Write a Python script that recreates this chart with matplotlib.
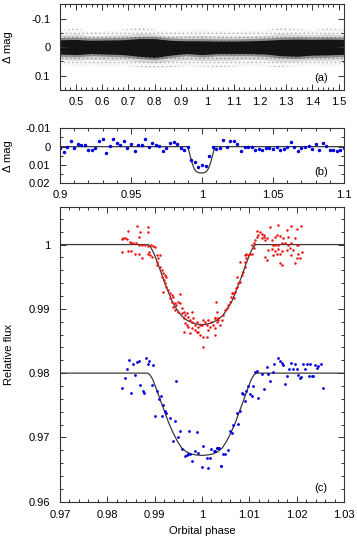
import numpy as np
import matplotlib
matplotlib.use("Agg")
import matplotlib.pyplot as plt
from matplotlib.ticker import MultipleLocator, FuncFormatter

plt.rcParams['font.family'] = ['Liberation Sans', 'DejaVu Sans']
plt.rcParams['font.size'] = 8
plt.rcParams['hatch.linewidth'] = 0.5

# --- panel (a): full phase-folded light curve, read as a band (phase, core and halo half widths)
env_phase = [0.44, 0.50, 0.56, 0.62, 0.68, 0.74, 0.80, 0.86, 0.92, 0.98,
             1.04, 1.10, 1.16, 1.22, 1.28, 1.34, 1.40, 1.46, 1.52]
core_up = [0.026, 0.027, 0.024, 0.025, 0.026, 0.030, 0.030, 0.024, 0.022, 0.022,
           0.021, 0.021, 0.022, 0.024, 0.027, 0.028, 0.027, 0.028, 0.027]
core_lo = [0.024, 0.026, 0.022, 0.024, 0.026, 0.032, 0.036, 0.028, 0.022, 0.026,
           0.022, 0.022, 0.022, 0.024, 0.030, 0.032, 0.028, 0.027, 0.025]
halo_up = [0.060, 0.066, 0.055, 0.058, 0.062, 0.068, 0.062, 0.055, 0.060, 0.062,
           0.058, 0.056, 0.058, 0.060, 0.068, 0.064, 0.060, 0.066, 0.062]
halo_lo = [0.062, 0.066, 0.064, 0.066, 0.064, 0.070, 0.074, 0.070, 0.066, 0.068,
           0.070, 0.068, 0.064, 0.066, 0.070, 0.066, 0.064, 0.066, 0.062]

# --- panel (b): binned residual light curve around the secondary
b_phase = [0.9000, 0.9025, 0.9050, 0.9075, 0.9100, 0.9125, 0.9150, 0.9175, 0.9200, 0.9225,
           0.9250, 0.9275, 0.9300, 0.9325, 0.9350, 0.9375, 0.9400, 0.9425, 0.9450, 0.9475,
           0.9500, 0.9525, 0.9550, 0.9575, 0.9600, 0.9625, 0.9650, 0.9675, 0.9700, 0.9725,
           0.9750, 0.9775, 0.9800, 0.9825, 0.9850, 0.9875, 0.9900, 0.9925, 0.9950, 0.9975,
           1.0000, 1.0025, 1.0050, 1.0075, 1.0100, 1.0125, 1.0150, 1.0175, 1.0200, 1.0225,
           1.0250, 1.0275, 1.0300, 1.0325, 1.0350, 1.0375, 1.0400, 1.0425, 1.0450, 1.0475,
           1.0500, 1.0525, 1.0550, 1.0575, 1.0600, 1.0625, 1.0650, 1.0675, 1.0700, 1.0725,
           1.0750, 1.0775, 1.0800, 1.0825, 1.0850, 1.0875, 1.0900, 1.0925, 1.0950, 1.0975,
           1.1000]
b_mag = [0.0009, 0.0029, 0.0000, -0.0031, 0.0009, -0.0013, -0.0009, -0.0007, 0.0020, 0.0018,
         0.0007, -0.0031, -0.0042, 0.0036, -0.0004, -0.0044, -0.0022, -0.0007, -0.0029, 0.0005,
         -0.0013, 0.0025, -0.0007, -0.0011, -0.0040, 0.0004, -0.0018, -0.0009, -0.0004, 0.0024,
         0.0007, -0.0018, -0.0025, -0.0013, 0.0009, 0.0018, 0.0002, 0.0075, 0.0084, 0.0111,
         0.0102, 0.0107, 0.0051, 0.0000, 0.0011, 0.0007, -0.0036, 0.0000, -0.0029, -0.0029,
         -0.0016, 0.0022, 0.0000, 0.0000, 0.0000, 0.0020, 0.0015, 0.0018, 0.0005, 0.0005,
         0.0011, 0.0002, 0.0018, 0.0011, 0.0004, -0.0024, 0.0002, 0.0022, 0.0009, 0.0002,
         -0.0005, 0.0015, -0.0015, 0.0018, -0.0020, -0.0004, 0.0020, 0.0020, 0.0025, 0.0020,
         0.0005]
b_model_phase = [0.9, 0.9898, 0.9905, 0.9915, 0.9925, 0.9935, 0.9945, 0.9958, 0.9975, 0.9995,
                 1.0015, 1.0032, 1.0045, 1.0055, 1.0065, 1.0075, 1.0085, 1.0092, 1.1]
b_model_mag = [0.0, 0.0, 0.0015, 0.0045, 0.0075, 0.0100, 0.0120, 0.0135, 0.0142, 0.0144,
               0.0142, 0.0135, 0.0120, 0.0100, 0.0075, 0.0045, 0.0015, 0.0, 0.0]

# --- panel (c): primary eclipse, two data sets
red_phase = [0.9862, 0.9885, 0.9869, 0.9844, 0.9885, 0.9867, 0.9834, 0.9837, 0.9830, 0.9841,
             0.9848, 0.9851, 0.9855, 0.9860, 0.9866, 0.9873, 0.9880, 0.9887, 0.9892, 0.9897,
             0.9901, 0.9832, 0.9844, 0.9851, 0.9858, 0.9866, 0.9873, 0.9887, 0.9890, 0.9894,
             0.9888, 0.9904, 0.9908, 0.9911, 0.9906, 0.9904, 0.9911, 0.9915, 0.9918, 0.9922,
             0.9925, 0.9915, 0.9920, 0.9922, 0.9925, 0.9929, 0.9918, 0.9932, 0.9936, 0.9939,
             0.9932, 0.9936, 0.9943, 0.9946, 0.9939, 0.9943, 0.9950, 0.9954, 0.9954, 0.9957,
             0.9961, 0.9964, 0.9950, 0.9957, 0.9968, 0.9971, 0.9978, 0.9975, 0.9978, 0.9982,
             0.9985, 0.9989, 0.9961, 0.9964, 0.9968, 0.9971, 0.9978, 0.9985, 0.9992, 0.9996,
             1.0003, 1.0010, 0.9992, 0.9999, 1.0006, 1.0003, 1.0013, 1.0020, 1.0027, 1.0031,
             1.0034, 1.0024, 1.0017, 1.0027, 1.0013, 1.0003, 0.9975, 0.9961, 0.9989, 0.9996,
             1.0010,
             1.0028, 1.0031, 1.0034, 1.0038, 1.0042, 1.0028, 1.0030, 1.0045, 1.0049, 1.0052,
             1.0056, 1.0059, 1.0061, 1.0063, 1.0066, 1.0070, 1.0071, 1.0073, 1.0068, 1.0077,
             1.0080, 1.0073, 1.0084, 1.0087, 1.0080, 1.0090, 1.0091, 1.0094, 1.0091, 1.0094,
             1.0098, 1.0101, 1.0105, 1.0109, 1.0105, 1.0109, 1.0112, 1.0116, 1.0119, 1.0117,
             1.0123, 1.0126, 1.0130, 1.0126, 1.0133, 1.0137, 1.0132, 1.0144, 1.0161, 1.0179,
             1.0189, 1.0200, 1.0209, 1.0154, 1.0158, 1.0147, 1.0165, 1.0172, 1.0182, 1.0196,
             1.0151, 1.0154, 1.0161, 1.0168, 1.0175, 1.0182, 1.0189, 1.0200, 1.0203, 1.0140,
             1.0147, 1.0154, 1.0161, 1.0168, 1.0179, 1.0186, 1.0193, 1.0203, 1.0211, 1.0151,
             1.0158, 1.0165, 1.0137, 1.0168, 1.0165, 1.0196, 1.0200, 1.0207, 1.0133, 1.0189]
red_flux = [1.00291, 1.00266, 1.00188, 1.00209, 1.00198, 1.00120, 1.00105, 1.00095, 1.00084, 1.00084,
            1.00043, 1.00017, 1.00017, 1.00032, 0.99991, 0.99991, 0.99991, 0.99981, 0.99991, 0.99975,
            0.99965, 0.99887, 0.99898, 0.99898, 0.99861, 0.99861, 0.99784, 0.99861, 0.99836, 0.99810,
            0.99887, 0.99836, 0.99784, 0.99836, 0.99732, 0.99680, 0.99654, 0.99602, 0.99551, 0.99525,
            0.99499, 0.99499, 0.99447, 0.99395, 0.99343, 0.99292, 0.99266, 0.99240, 0.99214, 0.99188,
            0.99162, 0.99110, 0.99084, 0.99059, 0.99033, 0.98981, 0.99110, 0.99224, 0.99084, 0.99007,
            0.98955, 0.98903, 0.98955, 0.98929, 0.98929, 0.98877, 0.98955, 0.98825, 0.98800, 0.98851,
            0.98748, 0.98800, 0.98851, 0.98774, 0.98748, 0.98722, 0.98696, 0.98670, 0.98644, 0.98592,
            0.98566, 0.98566, 0.98722, 0.98748, 0.98800, 0.98825, 0.98825, 0.98800, 0.98851, 0.98955,
            0.98851, 0.98748, 0.98722, 0.98696, 0.98670, 0.98411, 0.98618, 0.98634, 0.98644, 0.98748,
            0.98748,
            0.98851, 0.98800, 0.98825, 0.98748, 0.98825, 0.98592, 0.99110, 0.98903, 0.98981, 0.99007,
            0.99059, 0.99110, 0.99188, 0.99240, 0.99240, 0.99266, 0.99318, 0.99343, 0.99162, 0.99395,
            0.99421, 0.99499, 0.99525, 0.99577, 0.99732, 0.99654, 0.99732, 0.99784, 0.99836, 0.99861,
            0.99836, 0.99861, 0.99861, 0.99939, 0.99991, 1.00017, 1.00069, 1.00120, 1.00146, 1.00214,
            1.00198, 1.00172, 1.00146, 1.00095, 1.00069, 1.00095, 1.00120, 1.00276, 1.00312, 1.00224,
            1.00291, 1.00250, 1.00291, 1.00120, 1.00146, 1.00069, 1.00136, 1.00105, 1.00120, 1.00095,
            0.99991, 1.00001, 0.99991, 1.00017, 1.00032, 0.99991, 1.00017, 0.99991, 0.99991, 0.99913,
            0.99929, 0.99898, 0.99929, 0.99898, 0.99913, 0.99939, 0.99913, 0.99861, 0.99877, 0.99836,
            0.99861, 0.99846, 0.99758, 0.99680, 0.99706, 0.99706, 0.99784, 0.99784, 0.99810, 0.99836]

blue_phase = [0.9846, 0.9855, 0.9862, 0.9866, 0.9882, 0.9889, 0.9887, 0.9897, 0.9841, 0.9858,
              0.9837, 0.9832, 0.9850, 0.9870, 0.9875, 0.9878, 0.9894, 0.9904, 0.9909, 0.9913,
              0.9918, 0.9922, 0.9925, 0.9915, 0.9932, 0.9942, 0.9945, 0.9901, 0.9954, 0.9973,
              0.9989, 0.9949, 0.9939, 0.9957, 0.9964, 0.9968, 0.9971, 0.9975, 0.9985, 0.9992,
              1.0003, 1.0010, 1.0017, 1.0020, 1.0026, 1.0031, 1.0034, 0.9999, 1.0013, 0.9978,
              1.0040,
              1.0028, 1.0035, 1.0031, 1.0045, 1.0049, 1.0040, 1.0054, 1.0059, 1.0066, 1.0063,
              1.0077, 1.0073, 1.0080, 1.0084, 1.0091, 1.0087, 1.0094, 1.0098, 1.0101, 1.0105,
              1.0108, 1.0112, 1.0116, 1.0119, 1.0126, 1.0132, 1.0137, 1.0140, 1.0144, 1.0149,
              1.0153, 1.0160, 1.0165, 1.0168, 1.0172, 1.0175, 1.0179, 1.0184, 1.0188, 1.0193,
              1.0196, 1.0200, 1.0203, 1.0207, 1.0209, 1.0214, 1.0218, 1.0221, 1.0225, 1.0232,
              1.0228, 1.0235, 1.0239, 1.0246, 1.0251, 1.0256, 1.0242]
blue_flux = [0.98197, 0.98145, 0.98171, 0.98187, 0.98228, 0.98187, 0.98135, 0.98124, 0.98057, 0.97969,
             0.97917, 0.97762, 0.97694, 0.97814, 0.97720, 0.97694, 0.97808, 0.97720, 0.97591, 0.97643,
             0.97503, 0.97410, 0.97384, 0.97332, 0.97306, 0.97254, 0.97876, 0.97332, 0.97099, 0.97099,
             0.97088, 0.97006, 0.96943, 0.96814, 0.96710, 0.96726, 0.96736, 0.96736, 0.96788, 0.96762,
             0.96866, 0.96684, 0.96674, 0.96814, 0.96788, 0.96840, 0.96829, 0.96539, 0.96529, 0.96633,
             0.96553,
             0.96788, 0.96840, 0.96829, 0.96747, 0.96736, 0.96555, 0.96798, 0.97099, 0.97192, 0.97073,
             0.97213, 0.97384, 0.97410, 0.97694, 0.97565, 0.97669, 0.97720, 0.97798, 0.97669, 0.97643,
             0.97798, 0.98020, 0.98031, 0.97617, 0.97979, 0.97746, 0.98093, 0.97979, 0.97876, 0.98020,
             0.98145, 0.98238, 0.98187, 0.98161, 0.98124, 0.97824, 0.97953, 0.98057, 0.98161, 0.98057,
             0.98145, 0.98057, 0.97969, 0.97928, 0.97938, 0.98145, 0.98057, 0.98135, 0.97953, 0.97953,
             0.98145, 0.97953, 0.98124, 0.98109, 0.98135, 0.97772, 0.98083]

red_model_phase = [0.9700, 0.9887, 0.9892, 0.9898, 0.9908, 0.9918, 0.9929, 0.9938, 0.9947, 0.9957,
                   0.9968, 0.9980, 0.9992, 1.0000, 1.0008, 1.0020, 1.0032, 1.0043, 1.0053, 1.0062,
                   1.0071, 1.0082, 1.0092, 1.0102, 1.0108, 1.0113, 1.0300]
red_model_flux = [1.0, 1.0, 0.99955, 0.9987, 0.9968, 0.9947, 0.9926, 0.9910, 0.9899, 0.9889,
                  0.98825, 0.98780, 0.98760, 0.98755, 0.98760, 0.98780, 0.98825, 0.9889, 0.9899, 0.9910,
                  0.9926, 0.9947, 0.9968, 0.9987, 0.99955, 1.0, 1.0]
blue_model_phase = [0.9700, 0.9885, 0.9890, 0.9896, 0.9904, 0.9913, 0.9922, 0.9930, 0.9939, 0.9948,
                    0.9957, 0.9967, 0.9978, 0.9990, 1.0000, 1.0010, 1.0022, 1.0033, 1.0043, 1.0052,
                    1.0061, 1.0070, 1.0078, 1.0087, 1.0096, 1.0104, 1.0110, 1.0115, 1.0300]
blue_model_flux = [0.9800, 0.9800, 0.97975, 0.9790, 0.97746, 0.9756, 0.97383, 0.9722, 0.97072, 0.9694,
                   0.96838, 0.96775, 0.96740, 0.96725, 0.96720, 0.96725, 0.96740, 0.96775, 0.96838, 0.9694,
                   0.97072, 0.9722, 0.97383, 0.9756, 0.97746, 0.9790, 0.97975, 0.9800, 0.9800]

a_xticks = [0.5, 0.6, 0.7, 0.8, 0.9, 1.0, 1.1, 1.2, 1.3, 1.4, 1.5]
a_yticks = [-0.1, 0.0, 0.1]
b_xticks = [0.9, 0.95, 1.0, 1.05, 1.1]
b_yticks = [-0.01, 0.0, 0.01, 0.02]
c_xticks = [0.97, 0.98, 0.99, 1.0, 1.01, 1.02, 1.03]
c_yticks = [0.96, 0.97, 0.98, 0.99, 1.0]

frame = '#333333'
line_c = '#3a3a3a'


def fmt(v, pos):
    v = round(v, 6)
    if v == 0:
        v = 0.0
    return '%g' % v


def style(ax, xminor, yminor, xpad=5):
    ax.xaxis.set_minor_locator(MultipleLocator(xminor))
    ax.yaxis.set_minor_locator(MultipleLocator(yminor))
    ax.xaxis.set_major_formatter(FuncFormatter(fmt))
    ax.yaxis.set_major_formatter(FuncFormatter(fmt))
    ax.tick_params(which='both', direction='in', top=True, right=True, color=frame, width=0.7)
    ax.tick_params(which='major', length=4)
    ax.tick_params(which='minor', length=2)
    ax.tick_params(axis='x', pad=xpad)
    ax.tick_params(axis='y', pad=7)
    for s in ax.spines.values():
        s.set_color(frame)
        s.set_linewidth(0.8)


fig = plt.figure(figsize=(3.57, 5.38), dpi=100)
ax1 = fig.add_axes([0.168, 0.8327, 0.7956, 0.1593])
ax2 = fig.add_axes([0.168, 0.6593, 0.7956, 0.1022])
ax3 = fig.add_axes([0.168, 0.0675, 0.7956, 0.5472])

# (a) dense cloud drawn as soft stacked bands
ep = np.array(env_phase)
hu, hl = np.array(halo_up), np.array(halo_lo)
cu, cl = np.array(core_up), np.array(core_lo)
ax1.fill_between(ep, -hu, hl, facecolor='none', edgecolor='#b4b4b4', hatch='....', lw=0)
ax1.fill_between(ep, -hu, hl, color='k', alpha=0.03, lw=0)
ax1.fill_between(ep, -(0.5 * hu + 0.5 * cu), 0.5 * hl + 0.5 * cl, color='k', alpha=0.12, lw=0)
ax1.fill_between(ep, -(cu + 0.008), cl + 0.008, color='k', alpha=0.35, lw=0)
ax1.fill_between(ep, -cu, cl, color='k', alpha=0.85, lw=0)
ax1.set_xlim(0.44, 1.52)
ax1.set_ylim(0.15, -0.15)
ax1.set_xticks(a_xticks)
ax1.set_yticks(a_yticks)
style(ax1, 0.02, 0.05)
ax1.set_ylabel('Δ mag')
ax1.yaxis.set_label_coords(-0.164, 0.5)
ax1.text(0.92, 0.14, '(a)', transform=ax1.transAxes, ha='center', va='center')

# (b)
ax2.plot(b_model_phase, b_model_mag, color=line_c, lw=0.9)
ax2.plot(b_phase, b_mag, 'o', color='#0000dd', ms=2.5, mew=0)
ax2.set_xlim(0.9, 1.1)
ax2.set_ylim(0.02, -0.01)
ax2.set_xticks(b_xticks)
ax2.set_yticks(b_yticks)
style(ax2, 0.01, 0.005)
ax2.set_ylabel('Δ mag')
ax2.yaxis.set_label_coords(-0.164, 0.5)
ax2.text(0.92, 0.21, '(b)', transform=ax2.transAxes, ha='center', va='center')

# (c)
ax3.plot(red_model_phase, red_model_flux, color=line_c, lw=0.9)
ax3.plot(blue_model_phase, blue_model_flux, color=line_c, lw=0.9)
ax3.plot(red_phase, red_flux, 'o', color='#ee1111', ms=1.8, mew=0)
ax3.plot(blue_phase, blue_flux, 'o', color='#0000dd', ms=2.0, mew=0)
ax3.set_xlim(0.97, 1.03)
ax3.set_ylim(0.96, 1.0058)
ax3.set_xticks(c_xticks)
ax3.set_yticks(c_yticks)
style(ax3, 0.002, 0.002, xpad=6)
ax3.set_ylabel('Relative flux')
ax3.yaxis.set_label_coords(-0.162, 0.5)
ax3.set_xlabel('Orbital phase')
ax3.xaxis.set_label_coords(0.5, -0.083)
ax3.xaxis.label.set_va('top')
ax3.text(0.92, 0.047, '(c)', transform=ax3.transAxes, ha='center', va='center')

fig.savefig('out.png', dpi=100)
